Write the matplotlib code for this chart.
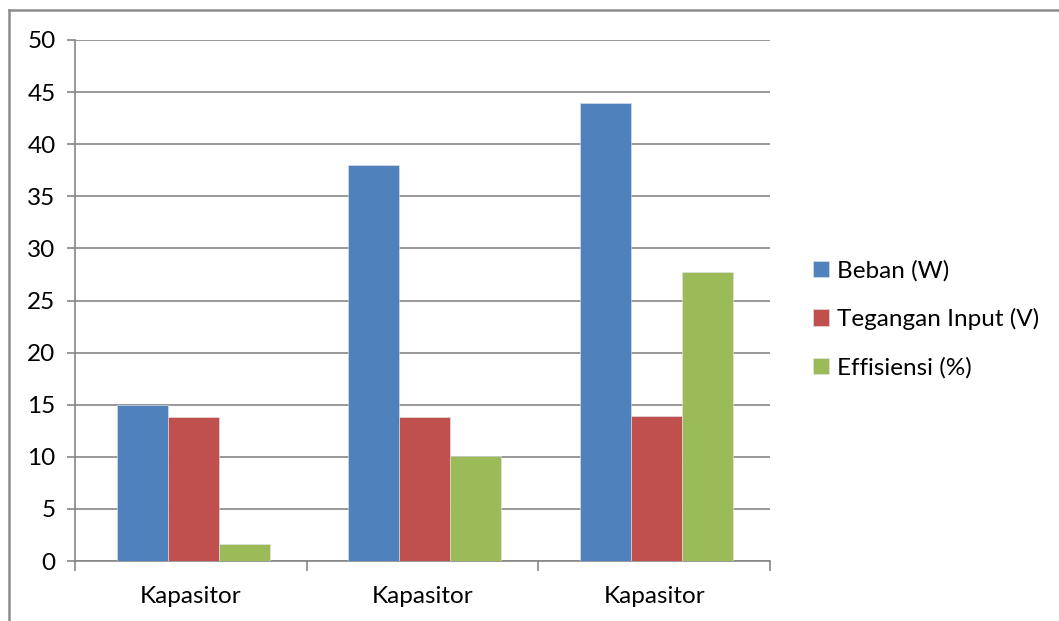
import numpy as np
import matplotlib.pyplot as plt
from matplotlib.lines import Line2D

plt.rcParams["font.family"] = ["Lato", "DejaVu Sans"]

categories = ["Kapasitor", "Kapasitor", "Kapasitor"]
beban = [15, 38, 44]
tegangan = [13.8, 13.8, 13.9]
effisiensi = [1.6, 10.1, 27.7]
series = [
    ("Beban (W)", beban, "#4F81BD"),
    ("Tegangan Input (V)", tegangan, "#C0504D"),
    ("Effisiensi (%)", effisiensi, "#9BBB59"),
]
yticks = list(range(0, 55, 5))

W, H = 1059, 621
fs = 17.5
fig = plt.figure(figsize=(W / 100, H / 100), dpi=100)
ax = fig.add_axes([75 / W, 1 - 561 / H, 695 / W, 521 / H])

grid_c = "#868686"
x = np.arange(len(categories))
bw = 0.22
for i, (name, vals, col) in enumerate(series):
    ax.bar(x + (i - 1) * bw + 0.01, vals, width=bw, color=col, label=name,
           edgecolor="#dfe6ef", linewidth=0.4, zorder=3)

ax.set_xlim(-0.5, len(categories) - 0.5)
ax.set_ylim(0, 50)
ax.set_yticks(yticks)
ax.yaxis.grid(True, color=grid_c, linewidth=1.2, zorder=0)
ax.tick_params(axis="y", length=6, width=1.2, color=grid_c, labelsize=fs, pad=8)

# category labels sit between the boundary ticks
ax.set_xticks(x)
ax.set_xticklabels(categories)
ax.set_xticks(np.arange(len(categories) + 1) - 0.5, minor=True)
ax.tick_params(axis="x", which="major", length=0, labelsize=fs, pad=18)
ax.tick_params(axis="x", which="minor", length=7, width=1.2, color=grid_c)

for s in ("top", "right"):
    ax.spines[s].set_visible(False)
for s in ("left", "bottom"):
    ax.spines[s].set_color(grid_c)
    ax.spines[s].set_linewidth(1.2)

ax.legend(loc="center left", bbox_to_anchor=(803 / W, 1 - 319 / H),
          bbox_transform=fig.transFigure, frameon=False, fontsize=fs,
          handlelength=0.65, handleheight=0.65, handletextpad=0.35,
          labelspacing=1.1, borderaxespad=0)

# outer chart frame
fx0, fy1 = 9 / W, 1 - 10 / H
fig.add_artist(Line2D([fx0, 1], [fy1, fy1], color="#8c8c8c", lw=1.8,
                      transform=fig.transFigure))
fig.add_artist(Line2D([fx0, fx0], [0, fy1], color="#8c8c8c", lw=1.8,
                      transform=fig.transFigure))

fig.savefig("out.png", dpi=100)
